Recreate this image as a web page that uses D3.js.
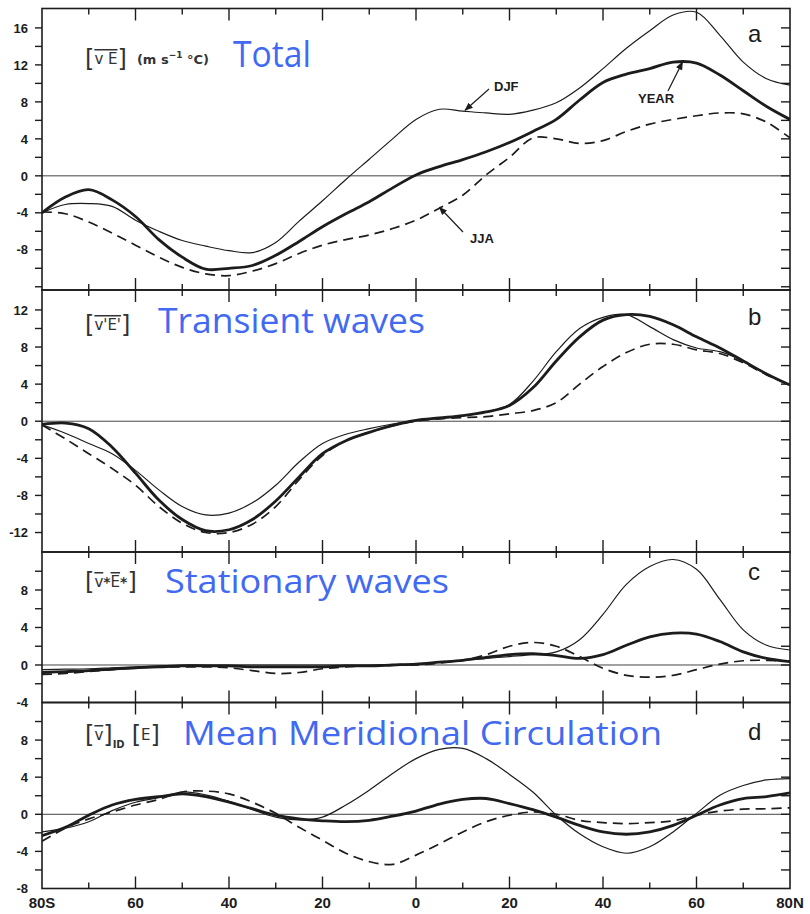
<!DOCTYPE html>
<html>
<head>
<meta charset="utf-8">
<script src="https://cdn.jsdelivr.net/npm/d3@7/dist/d3.min.js"></script>
<style>
  body { margin: 0; background: #fff; }
  svg { display: block; }
</style>
</head>
<body>
<svg id="chart" width="810" height="914"></svg>
<script>
// Latitude grid (S negative), every 5 degrees.
const lats = [-80, -75, -70, -65, -60, -55, -50, -45, -40, -35, -30, -25, -20, -15, -10, -5,
              0, 5, 10, 15, 20, 25, 30, 35, 40, 45, 50, 55, 60, 65, 70, 75, 80];

// a: total [vE]
const aYear = [-4.0, -2.3, -1.5, -2.6, -4.4, -6.9, -8.8, -10.1, -10.0, -9.7, -8.6, -7.1, -5.5, -4.1, -2.8, -1.3,
               0.1, 1.0, 1.75, 2.6, 3.6, 4.8, 6.1, 8.2, 10.1, 11.0, 11.6, 12.3, 12.2, 10.9, 9.2, 7.5, 6.1];
const aDjf = [-4.0, -3.1, -3.0, -3.3, -4.8, -6.0, -7.0, -7.6, -8.1, -8.3, -7.2, -4.9, -2.7, -0.4, 1.8, 4.0,
              6.1, 7.2, 7.0, 6.8, 6.65, 7.1, 7.9, 9.5, 11.6, 13.8, 15.7, 17.4, 17.7, 15.2, 12.3, 10.5, 9.8];
const aJja = [-3.9, -4.1, -5.0, -6.2, -7.5, -8.8, -9.9, -10.6, -10.8, -10.3, -9.5, -8.4, -7.5, -6.9, -6.4, -5.7,
              -4.8, -3.5, -2.1, 0.1, 2.0, 4.1, 4.0, 3.5, 3.8, 4.8, 5.6, 6.1, 6.5, 6.8, 6.7, 5.8, 4.1];

// b: transient waves [v'E']
const bYear = [-0.35, -0.2, -0.8, -2.8, -5.6, -8.5, -10.6, -11.8, -11.7, -10.6, -8.6, -6.0, -3.5, -2.1, -1.2, -0.45,
               0.1, 0.35, 0.6, 1.0, 1.7, 3.6, 6.5, 9.1, 10.9, 11.5, 11.3, 10.4, 9.1, 7.9, 6.5, 5.1, 3.9];
const bDjf = [-0.4, -1.3, -2.4, -3.5, -5.3, -7.4, -9.2, -10.1, -9.9, -8.8, -6.9, -4.4, -2.4, -1.4, -0.8, -0.3,
              0.1, 0.35, 0.6, 1.0, 1.8, 4.3, 7.5, 10.0, 11.2, 11.5, 10.2, 8.8, 7.9, 7.5, 6.5, 5.1, 3.9];
const bJja = [-0.4, -1.9, -3.5, -5.1, -6.9, -9.2, -11.0, -12.0, -12.0, -11.1, -9.2, -6.3, -3.7, -2.1, -1.2, -0.5,
              0.0, 0.25, 0.4, 0.5, 0.8, 1.15, 2.0, 4.0, 5.9, 7.4, 8.3, 8.3, 7.7, 7.3, 6.3, 5.0, 3.9];

// c: stationary waves [v*E*]
const cYear = [-0.8, -0.7, -0.6, -0.45, -0.3, -0.2, -0.1, -0.1, -0.1, -0.2, -0.2, -0.2, -0.2, -0.1, -0.1, 0.0,
               0.1, 0.3, 0.5, 0.8, 1.1, 1.2, 1.0, 0.7, 1.1, 2.1, 3.0, 3.4, 3.3, 2.5, 1.4, 0.7, 0.35];
const cDjf = [-0.5, -0.45, -0.4, -0.3, -0.2, -0.1, 0.0, 0.0, 0.0, 0.0, 0.0, 0.0, 0.0, 0.0, 0.0, 0.05,
              0.1, 0.3, 0.5, 0.7, 0.9, 1.1, 1.4, 2.7, 5.4, 8.6, 10.5, 11.25, 10.2, 7.0, 3.75, 2.1, 1.6];
const cJja = [-1.0, -0.9, -0.7, -0.5, -0.3, -0.2, -0.2, -0.2, -0.3, -0.6, -0.9, -0.8, -0.4, -0.2, -0.1, 0.0,
              0.0, 0.2, 0.5, 1.1, 2.0, 2.4, 2.0, 0.9, -0.35, -1.1, -1.3, -1.1, -0.5, 0.1, 0.45, 0.5, 0.4];

// d: mean meridional circulation [v]ID [E]
const dYear = [-2.3, -1.4, -0.1, 1.0, 1.6, 1.9, 2.2, 1.9, 1.3, 0.6, -0.1, -0.5, -0.7, -0.8, -0.65, -0.2,
               0.35, 1.1, 1.6, 1.7, 1.15, 0.5, -0.3, -1.2, -1.9, -2.15, -1.9, -1.2, -0.1, 1.0, 1.7, 1.9, 2.3];
const dDjf = [-1.9, -1.5, -0.8, 0.4, 1.3, 1.8, 2.4, 2.1, 1.4, 0.5, -0.3, -0.6, -0.3, 1.0, 2.6, 4.4,
              6.0, 7.0, 7.1, 6.0, 4.3, 2.4, -0.1, -2.1, -3.5, -4.2, -3.5, -1.9, 0.1, 2.05, 3.1, 3.7, 3.85];
const dJja = [-2.9, -1.5, -0.5, 0.25, 1.0, 1.6, 2.4, 2.5, 2.2, 1.3, 0.1, -1.4, -2.8, -4.2, -5.1, -5.4,
              -4.4, -3.2, -1.9, -0.8, -0.1, 0.25, 0.0, -0.65, -0.9, -1.0, -0.9, -0.7, -0.1, 0.35, 0.55, 0.6, 0.7];

// Axis labels
const xTickVals = [-80, -60, -40, -20, 0, 20, 40, 60, 80];
const xTickLabels = ["80S", "60", "40", "20", "0", "20", "40", "60", "80N"];
const aYLabels = [-8, -4, 0, 4, 8, 12, 16];
const bYLabels = [-12, -8, -4, 0, 4, 8, 12];
const cYLabels = [-4, 0, 4, 8];
const dYLabels = [-8, -4, 0, 4, 8];

const titles = ["Total", "Transient waves", "Stationary waves", "Mean Meridional Circulation"];
const panelLetters = ["a", "b", "c", "d"];

const INK = "#1c1c1c";
const BLUE = "#4169f2";
const LEFT = 42, RIGHT = 790;

const svg = d3.select("#chart");
const x = d3.scaleLinear().domain([-80, 80]).range([LEFT, RIGHT]);

const panels = [
  { top: 8.5, bottom: 290, domain: [-12.35, 18.1], labels: aYLabels, year: aYear, djf: aDjf, jja: aJja,
    titleX: 233, titleY: 67, titleW: 78, titleSize: 36, letterY: 42 },
  { top: 290, bottom: 552, domain: [-14.1, 14.15], labels: bYLabels, year: bYear, djf: bDjf, jja: bJja,
    titleX: 158, titleY: 333, titleW: 267, titleSize: 35, letterY: 325 },
  { top: 552, bottom: 702.5, domain: [-4, 12.05], labels: cYLabels, year: cYear, djf: cDjf, jja: cJja,
    titleX: 165, titleY: 593, titleW: 284, titleSize: 32, letterY: 580 },
  { top: 702.5, bottom: 888.5, domain: [-8, 12.05], labels: dYLabels, year: dYear, djf: dDjf, jja: dJja,
    titleX: 183, titleY: 745, titleW: 479, titleSize: 33, letterY: 740 }
];

const styles = {
  year: { width: 2.8, dash: null },
  djf: { width: 1.2, dash: null },
  jja: { width: 1.7, dash: "10,6" }
};

const defs = svg.append("defs");
defs.append("marker")
  .attr("id", "arrow")
  .attr("viewBox", "0 0 10 10")
  .attr("refX", 9).attr("refY", 5)
  .attr("markerWidth", 7).attr("markerHeight", 7)
  .attr("orient", "auto")
  .append("path")
  .attr("d", "M0,1 L10,5 L0,9 Z")
  .attr("fill", INK);

panels.forEach((p, i) => {
  const y = d3.scaleLinear().domain(p.domain).range([p.bottom, p.top]);
  p.y = y;
  const g = svg.append("g");

  defs.append("clipPath").attr("id", "clip" + i)
    .append("rect")
    .attr("x", LEFT).attr("y", p.top)
    .attr("width", RIGHT - LEFT).attr("height", p.bottom - p.top);

  // zero line
  g.append("line")
    .attr("x1", LEFT).attr("x2", RIGHT)
    .attr("y1", y(0)).attr("y2", y(0))
    .attr("stroke", "#444").attr("stroke-width", 1);

  const line = d3.line()
    .x((d, k) => x(lats[k]))
    .y(d => y(d))
    .curve(d3.curveCatmullRom.alpha(0.5));

  const lines = g.append("g").attr("clip-path", `url(#clip${i})`);
  ["jja", "djf", "year"].forEach(key => {
    lines.append("path")
      .datum(p[key])
      .attr("d", line)
      .attr("fill", "none")
      .attr("stroke", INK)
      .attr("stroke-width", styles[key].width)
      .attr("stroke-dasharray", styles[key].dash)
      .attr("stroke-linejoin", "round");
  });

  // frame
  g.append("rect")
    .attr("x", LEFT).attr("y", p.top)
    .attr("width", RIGHT - LEFT).attr("height", p.bottom - p.top)
    .attr("fill", "none").attr("stroke", INK).attr("stroke-width", 1.6);

  // y ticks every 2 units: outward on the left, inward on the right
  const yMinor = d3.range(Math.ceil(p.domain[0] / 2) * 2, p.domain[1], 2)
    .filter(v => y(v) > p.top + 3 && y(v) < p.bottom - 1);
  g.selectAll(".yl").data(yMinor).join("line")
    .attr("x1", LEFT - 7).attr("x2", LEFT)
    .attr("y1", d => y(d)).attr("y2", d => y(d))
    .attr("stroke", INK).attr("stroke-width", 1.4);
  g.selectAll(".yr").data(yMinor).join("line")
    .attr("x1", RIGHT - 9).attr("x2", RIGHT)
    .attr("y1", d => y(d)).attr("y2", d => y(d))
    .attr("stroke", INK).attr("stroke-width", 1.4);

  g.selectAll(".ylab").data(p.labels).join("text")
    .attr("x", 28).attr("y", d => y(d))
    .attr("dy", "0.36em")
    .attr("text-anchor", "end")
    .attr("font-family", "Liberation Sans, Arial, sans-serif")
    .attr("font-weight", "bold")
    .attr("font-size", 13)
    .attr("fill", INK)
    .text(d => d < 0 ? "-" + Math.abs(d) : d);

  // x ticks every 10 degrees, inward on top and bottom
  const xt = d3.range(-70, 80, 10);
  const len = d => (d % 20 === 0 ? 12 : 6);
  g.selectAll(".xt").data(xt).join("line")
    .attr("x1", d => x(d)).attr("x2", d => x(d))
    .attr("y1", p.top).attr("y2", d => p.top + len(d))
    .attr("stroke", INK).attr("stroke-width", 1.4);
  g.selectAll(".xb").data(xt).join("line")
    .attr("x1", d => x(d)).attr("x2", d => x(d))
    .attr("y1", p.bottom).attr("y2", d => p.bottom - len(d))
    .attr("stroke", INK).attr("stroke-width", 1.4);

  // blue title
  g.append("text")
    .attr("x", p.titleX).attr("y", p.titleY)
    .attr("font-family", "'Open Sans', Lato, sans-serif")
    .attr("font-size", p.titleSize)
    .attr("textLength", p.titleW)
    .attr("lengthAdjust", "spacingAndGlyphs")
    .attr("fill", BLUE)
    .text(titles[i]);

  // panel letter
  g.append("text")
    .attr("x", 748).attr("y", p.letterY)
    .attr("font-family", "Liberation Sans, Arial, sans-serif")
    .attr("font-size", 24)
    .attr("fill", INK)
    .text(panelLetters[i]);
});

// bottom axis labels
svg.selectAll(".xlab").data(xTickVals).join("text")
  .attr("x", d => x(d)).attr("y", 908)
  .attr("text-anchor", "middle")
  .attr("font-family", "Liberation Sans, Arial, sans-serif")
  .attr("font-weight", "bold")
  .attr("font-size", 15)
  .attr("fill", INK)
  .text((d, k) => xTickLabels[k]);

// Black formula labels (bracket notation of the original)
function formula(px, py, parts) {
  const t = svg.append("text")
    .attr("x", px).attr("y", py)
    .attr("font-family", "DejaVu Sans, sans-serif")
    .attr("fill", "#333");
  parts.forEach(pt => {
    const s = t.append("tspan")
      .attr("font-size", pt.size || 14)
      .text(pt.t);
    if (pt.over) s.attr("text-decoration", "overline");
    if (pt.dy) s.attr("dy", pt.dy);
    if (pt.dx) s.attr("dx", pt.dx);
    if (pt.bold) s.attr("font-weight", "bold");
  });
}
formula(85, 67, [
  { t: "[", size: 24 }, { t: "v E", size: 15, over: true, dy: -3 }, { t: "]", size: 24, dy: 3 },
  { t: "(m s", size: 13, dx: 10, bold: true, dy: -3 }, { t: "−1", size: 9, dy: -6, bold: true },
  { t: " °C)", size: 13, dy: 6, bold: true }
]);
formula(85, 333, [
  { t: "[", size: 24 }, { t: "v'E'", size: 15, over: true, dy: -3 }, { t: "]", size: 24, dy: 3 }
]);
formula(85, 590, [
  { t: "[", size: 24 }, { t: "v", size: 15, over: true, dy: -3 }, { t: "*", size: 14, bold: true },
  { t: "E", size: 15, over: true }, { t: "*", size: 14, bold: true }, { t: "]", size: 24, dy: 3 }
]);
formula(85, 743, [
  { t: "[", size: 24 }, { t: "v", size: 15, over: true, dy: -3 }, { t: "]", size: 24, dy: 3 },
  { t: "ID", size: 10, dy: 5, bold: true }, { t: "[", size: 24, dx: 7, dy: -5 },
  { t: "E", size: 15, dy: -3 }, { t: "]", size: 24, dy: 3 }
]);

// Season annotations in panel a
const pa = panels[0];
const notes = [
  { label: "DJF", lx: 494, ly: 91, tipLat: 10.5, tipVal: 7.1, fromX: 489, fromY: 89 },
  { label: "YEAR", lx: 638, ly: 103, tipLat: 57, tipVal: 12.3, fromX: 668, fromY: 91 },
  { label: "JJA", lx: 470, ly: 243, tipLat: 5, tipVal: -3.4, fromX: 463, fromY: 232 }
];
notes.forEach(n => {
  svg.append("line")
    .attr("x1", n.fromX).attr("y1", n.fromY)
    .attr("x2", x(n.tipLat)).attr("y2", pa.y(n.tipVal))
    .attr("stroke", INK).attr("stroke-width", 1.2)
    .attr("marker-end", "url(#arrow)");
  svg.append("text")
    .attr("x", n.lx).attr("y", n.ly)
    .attr("font-family", "Liberation Sans, Arial, sans-serif")
    .attr("font-weight", "bold")
    .attr("font-size", 13)
    .attr("fill", INK)
    .text(n.label);
});
</script>
</body>
</html>
